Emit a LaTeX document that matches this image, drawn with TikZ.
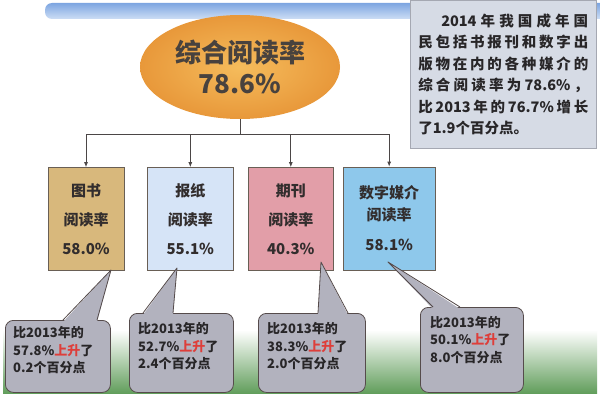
\documentclass[tikz,border=0pt]{standalone}
\usepackage{fontspec}
\setmainfont{Noto Sans CJK SC}
\usetikzlibrary{shapes.geometric,arrows.meta}
\definecolor{bandA}{RGB}{125,165,225}
\definecolor{bandB}{RGB}{205,222,245}
\definecolor{ellIn}{RGB}{245,188,92}
\definecolor{ellOut}{RGB}{232,152,58}
\definecolor{ellTxt}{RGB}{72,66,62}
\definecolor{grass}{RGB}{98,158,92}
\definecolor{grassMid}{RGB}{180,215,170}
\definecolor{conncol}{RGB}{75,70,70}
\definecolor{boxline}{RGB}{105,95,85}
\definecolor{boxtxt}{RGB}{50,45,45}
\definecolor{fillA}{RGB}{216,184,124}
\definecolor{fillB}{RGB}{214,228,247}
\definecolor{fillC}{RGB}{226,158,168}
\definecolor{fillD}{RGB}{142,200,235}
\definecolor{infofill}{RGB}{214,219,229}
\definecolor{infoline}{RGB}{165,168,178}
\definecolor{infotxt}{RGB}{40,38,40}
\definecolor{callfill}{RGB}{178,178,190}
\definecolor{callline}{RGB}{85,75,75}
\definecolor{uptxt}{RGB}{222,62,58}
\makeatletter
\newcommand\spreadln[2]{\makebox[#1][s]{\let\sp@gap\relax\@tfor\sp@x:=#2\do{\sp@gap\sp@x\let\sp@gap\hfil}}}
\makeatother
\begin{document}
\begin{tikzpicture}[x=1pt,y=-1pt,
  conn/.style={draw=conncol,line width=0.8pt},
  rbox/.style={draw=boxline,line width=0.7pt,minimum height=103pt,align=center,
    font=\fontsize{15}{29}\selectfont\bfseries,text=boxtxt,inner sep=0pt},
  callbox/.style={fill=callfill,draw=callline,line width=0.8pt,rounded corners=8pt,
    anchor=north west,inner sep=0pt},
  calltxt/.style={anchor=west,align=left,inner sep=0pt,text=infotxt,
    font=\fontsize{13}{17.5}\selectfont\bfseries},
  tail/.style={draw=callline,line width=0.8pt,line join=round}]
\useasboundingbox (0,0) rectangle (600,396);
\fill[white] (0,0) rectangle (600,396);
% decorative backdrop
\shade[top color=bandA,bottom color=bandB,rounded corners=7pt] (45,3) rectangle (615,19);
\shade[top color=white,middle color=grassMid,bottom color=grass] (3,330) rectangle (597,393);
% title ellipse
\node[ellipse,minimum width=200pt,minimum height=104pt,inner color=ellIn,outer color=ellOut,
  align=center,text=ellTxt,font=\fontsize{26}{31}\selectfont\bfseries] (top) at (240,67)
  {综合阅读率\\78.6\%};
% info box
\node[fill=infofill,draw=infoline,line width=0.5pt,minimum width=186pt,minimum height=148pt,
  anchor=north west,inner sep=0pt,align=left,text=infotxt,
  font=\fontsize{14.5}{21.5}\selectfont\bfseries] (info) at (410,0)
  {\hspace*{23pt}\spreadln{147pt}{{2014}年我国成年国}\\
   \spreadln{170pt}{民包括书报刊和数字出}\\
   \spreadln{170pt}{版物在内的各种媒介的}\\
   \spreadln{170pt}{综合阅读率为{78.6\%}，}\\
   \spreadln{170pt}{比{2013}年的{76.7\%}增长}\\
   \makebox[170pt][l]{了1.9个百分点。}};
% category boxes
\node[rbox,fill=fillA,minimum width=76pt] (b1) at (86,219) {图书\\阅读率\\58.0\%};
\node[rbox,fill=fillB,minimum width=86pt] (b2) at (190.3,219) {报纸\\阅读率\\55.1\%};
\node[rbox,fill=fillC,minimum width=85pt] (b3) at (290.8,219) {期刊\\阅读率\\40.3\%};
\node[rbox,fill=fillD,minimum width=92pt] (b4) at (389.2,218.5) {数字媒介\\[-7pt]阅读率\\[1pt]58.1\%};
% connectors
\coordinate (bar) at (240,134);
\draw[conn] (top.south) -- (bar);
\draw[conn] (b1.north |- bar) -- (b4.north |- bar);
\foreach \b in {b1,b2,b3,b4}
  \draw[conn,-{Latex[length=5pt,width=4pt]}] (\b.north |- bar) -- (\b.north);
% callouts
\node[callbox,minimum width=105pt,minimum height=72pt] (c1) at (5,320) {};
\coordinate (t1) at (111,270);
\fill[callfill] (63,322) -- (t1) -- (97,322) -- cycle;
\draw[tail] (63,320) -- (t1) -- (97,320);
\node[calltxt] (c1t) at (13,350.5) {比2013年的\\57.8\%\textcolor{uptxt}{上升}了\\0.2个百分点};

\node[callbox,minimum width=104pt,minimum height=79pt] (c2) at (129,313) {};
\coordinate (t2) at (177,268);
\fill[callfill] (143,315) -- (t2) -- (173,315) -- cycle;
\draw[tail] (143,313) -- (t2) -- (173,313);
\node[calltxt] (c2t) at (138,346.5) {比2013年的\\52.7\%\textcolor{uptxt}{上升}了\\2.4个百分点};

\node[callbox,minimum width=107pt,minimum height=79pt] (c3) at (258,313) {};
\coordinate (t3) at (321,262);
\fill[callfill] (318,315) -- (t3) -- (348,315) -- cycle;
\draw[tail] (318,313) -- (t3) -- (348,313);
\node[calltxt] (c3t) at (267,346.5) {比2013年的\\38.3\%\textcolor{uptxt}{上升}了\\2.0个百分点};

\node[callbox,minimum width=103pt,minimum height=85pt] (c4) at (420,307) {};
\coordinate (t4) at (388,262);
\fill[callfill] (433,309) -- (t4) -- (460,309) -- cycle;
\draw[tail] (433,307) -- (t4) -- (460,307);
\node[calltxt] (c4t) at (430,340) {比2013年的\\50.1\%\textcolor{uptxt}{上升}了\\8.0个百分点};
\end{tikzpicture}
\end{document}
